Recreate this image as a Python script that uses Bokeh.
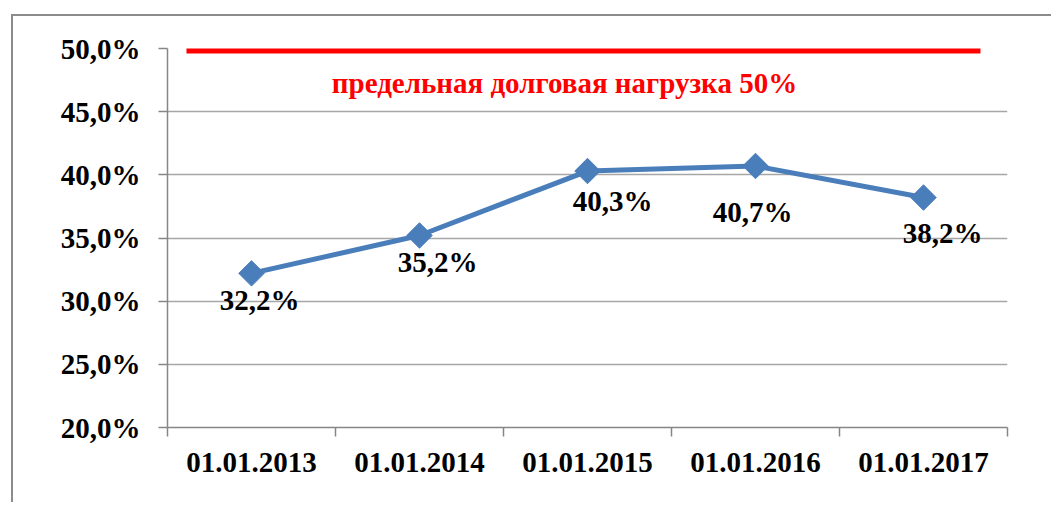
from bokeh.plotting import figure
from bokeh.models import Range1d, FixedTicker, ColumnDataSource
from bokeh.core.properties import value
from bokeh.embed import file_html
from bokeh.resources import INLINE

# ---- data ----
dates = ["01.01.2013", "01.01.2014", "01.01.2015", "01.01.2016", "01.01.2017"]
debt_load = [32.2, 35.2, 40.3, 40.7, 38.2]
limit_value = 50.0
limit_text = "предельная долговая нагрузка 50%"
y_ticks = [20, 25, 30, 35, 40, 45, 50]

# ---- layout-only label offsets (pixels) ----
label_dx = [8, 18, 25, -3, 19]
label_dy = [27, 27, 30, 46, 35]

FONT_NAME = "Liberation Serif"
FONT = value(FONT_NAME)
FSIZE = "29px"
BLUE = "#4A7EBB"
GRID = "#A6A6A6"
AXIS = "#868686"

n = len(dates)
centers = [i + 0.5 for i in range(n)]          # category slot centres
bounds = list(range(n + 1))                     # category slot boundaries

p = figure(width=1040, height=488, output_backend="svg", toolbar_location=None,
           x_range=Range1d(0, n), y_range=Range1d(20, 50),
           x_axis_location="below", y_axis_location="left",
           min_border_left=154, min_border_top=32, min_border_right=46, min_border_bottom=77)
p.styles = {"position": "relative", "left": "11px", "top": "14px",
            "border-left": "2px solid #8C8C8C", "border-top": "2px solid #8C8C8C"}
p.outline_line_color = None
p.background_fill_color = "white"
p.border_fill_color = "white"

# y axis
ya = p.yaxis[0]
ya.ticker = FixedTicker(ticks=y_ticks)
ya.major_label_overrides = {t: f"{t:.1f}%".replace(".", ",") for t in y_ticks}
ya.minor_tick_line_color = None
ya.major_tick_out = 9
ya.major_tick_in = 0
ya.major_tick_line_color = AXIS
ya.major_tick_line_width = 1.5
ya.axis_line_color = AXIS
ya.axis_line_width = 1.5
ya.major_label_standoff = 18
ya.major_label_text_font = FONT_NAME
ya.major_label_text_font_style = "bold"
ya.major_label_text_font_size = FSIZE
ya.major_label_text_color = "black"

p.ygrid.ticker = FixedTicker(ticks=y_ticks)
p.ygrid.grid_line_color = GRID
p.ygrid.grid_line_width = 1.5
p.xgrid.grid_line_color = None

# x axis: labels at slot centres, tick marks at slot boundaries (minor ticks)
xa = p.xaxis[0]
xa.ticker = FixedTicker(ticks=centers, minor_ticks=bounds)
xa.major_label_overrides = {c: d for c, d in zip(centers, dates)}
xa.major_tick_line_color = None
xa.major_tick_out = 0
xa.major_tick_in = 0
xa.minor_tick_out = 9
xa.minor_tick_in = 0
xa.minor_tick_line_color = AXIS
xa.minor_tick_line_width = 1.5
xa.axis_line_color = AXIS
xa.axis_line_width = 1.5
xa.major_label_standoff = 16
xa.major_label_text_font = FONT_NAME
xa.major_label_text_font_style = "bold"
xa.major_label_text_font_size = FSIZE
xa.major_label_text_color = "black"

# limit line
p.rect(x=[2.476], y=[limit_value], width=[4.726], height=10, height_units="screen",
       fill_color="#FF0000", line_color=None)
p.text(x=[2.363], y=[47.3], text=[limit_text],
       text_font=FONT, text_font_style="bold", text_font_size=FSIZE,
       text_color="#FF0000", text_align="center", text_baseline="middle")

# series
src = ColumnDataSource(dict(x=centers, y=debt_load,
                            lab=[f"{v:.1f}%".replace(".", ",") for v in debt_load],
                            dx=label_dx, dy=label_dy))
p.line("x", "y", source=src, line_color=BLUE, line_width=5)
p.scatter("x", "y", source=src, marker="square", angle=0.7854, size=18,
          fill_color=BLUE, line_color=BLUE)
p.text("x", "y", text="lab", source=src, x_offset="dx", y_offset="dy",
       text_font=FONT, text_font_style="bold", text_font_size=FSIZE,
       text_color="black", text_align="center", text_baseline="middle")

open("out.html", "w").write(file_html(p, INLINE))
